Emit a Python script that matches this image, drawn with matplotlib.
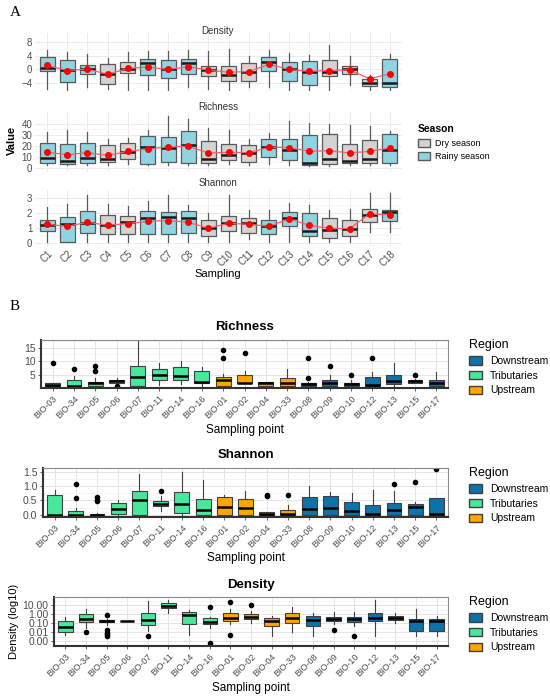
import matplotlib
matplotlib.use('Agg')
import matplotlib.pyplot as plt
from matplotlib.patches import Patch
import numpy as np

plt.rcParams['font.family'] = ['Liberation Sans', 'DejaVu Sans']

# ---------------- Panel A data (C1..C18) ----------------
sites = ['C1', 'C2', 'C3', 'C4', 'C5', 'C6', 'C7', 'C8', 'C9', 'C10',
         'C11', 'C12', 'C13', 'C14', 'C15', 'C16', 'C17', 'C18']
season = ['Rainy', 'Rainy', 'Rainy', 'Dry', 'Dry', 'Rainy', 'Rainy', 'Rainy', 'Dry',
          'Dry', 'Dry', 'Rainy', 'Rainy', 'Rainy', 'Dry', 'Dry', 'Dry', 'Rainy']

dens_lo = [-5.6, -5.8, -5.1, -5.6, -5.8, -5.8, -5.8, -5.1, -5.6, -5.8, -5.1, -5.1, -5.8, -5.8, -5.8, -4.5, -5.8, -5.8]
dens_q1 = [-0.5, -3.5, -1.2, -4.1, -1.1, -1.7, -2.6, -1.2, -1.9, -3.3, -3.3, -0.5, -3.3, -4.6, -2.0, -1.4, -4.8, -5.1]
dens_med = [0.4, -0.2, 0.1, -1.2, 0.1, 2.0, 0.1, 1.9, -0.2, -1.5, -0.8, 2.2, 0.2, -0.8, -0.8, 0.0, -4.0, -3.8]
dens_q3 = [3.5, 2.7, 1.4, 1.5, 2.2, 3.0, 2.7, 3.0, 1.1, 1.0, 2.0, 3.5, 2.1, 2.4, 2.6, 1.1, -2.8, 2.9]
dens_hi = [5.5, 5.0, 4.5, 3.3, 5.0, 5.4, 5.4, 5.6, 5.4, 5.8, 4.0, 5.6, 4.7, 4.2, 7.1, 4.0, -1.5, 4.4]
dens_mean = [1.2, -0.3, 0.1, -1.4, 0.3, 0.7, 0.0, 0.8, -0.2, -0.8, -0.6, 1.5, 0.0, -0.5, -0.3, -0.1, -2.7, -1.2]

rich_lo = [2.5, 2.5, 2.0, 2.8, 3.7, 2.0, 2.5, 2.0, 2.0, 3.0, 2.8, 3.7, 2.5, 1.6, 1.6, 2.5, 2.5, 2.5]
rich_q1 = [4.7, 3.5, 4.1, 5.0, 7.8, 3.5, 5.0, 4.1, 4.4, 6.9, 5.3, 9.3, 7.2, 2.5, 3.3, 4.7, 4.7, 4.7]
rich_med = [8.8, 6.5, 9.0, 8.1, 14.7, 19.3, 17.8, 21.2, 7.5, 11.2, 13.1, 19.0, 16.5, 4.1, 8.1, 6.5, 8.1, 16.5]
rich_q3 = [22.8, 21.5, 22.8, 20.6, 22.4, 29.0, 28.4, 33.4, 24.0, 21.9, 20.9, 25.9, 26.5, 29.6, 31.2, 21.9, 25.0, 30.6]
rich_hi = [32.7, 34.6, 32.7, 25.9, 27.5, 34.6, 47.7, 44.6, 35.9, 34.6, 26.5, 32.0, 43.0, 40.8, 39.9, 39.0, 37.8, 33.6]
rich_mean = [14.0, 11.9, 13.7, 11.2, 14.9, 17.2, 19.0, 19.6, 13.4, 14.0, 13.7, 18.7, 18.4, 15.0, 15.6, 13.4, 15.0, 18.1]

shan_lo = [0.07, 0.04, 0.07, 0.07, 0.07, 0.07, 0.07, 0.07, 0.07, 0.07, 0.25, 0.07, 0.07, 0.07, 0.07, 0.07, 0.73, 0.73]
shan_q1 = [0.80, 0.09, 0.68, 0.62, 0.62, 0.62, 0.62, 0.66, 0.48, 0.80, 0.68, 0.62, 1.15, 0.44, 0.35, 0.48, 1.41, 1.45]
shan_med = [1.20, 1.23, 1.30, 1.20, 1.37, 1.65, 1.72, 1.65, 0.97, 1.30, 1.30, 1.15, 1.63, 0.80, 0.84, 0.90, 1.85, 2.03]
shan_q3 = [1.50, 1.72, 2.10, 1.85, 1.80, 2.10, 2.07, 2.10, 1.50, 1.80, 1.67, 1.50, 2.07, 2.00, 1.67, 1.50, 2.25, 2.20]
shan_hi = [2.40, 2.60, 3.15, 2.55, 2.45, 2.80, 3.15, 2.50, 2.00, 3.15, 2.15, 2.15, 2.64, 2.50, 2.15, 2.27, 3.30, 3.30]
shan_mean = [1.23, 1.10, 1.37, 1.17, 1.28, 1.43, 1.48, 1.37, 0.97, 1.30, 1.23, 1.10, 1.59, 1.17, 0.97, 0.95, 1.92, 1.87]

# ---------------- Panel B data (sampling points) ----------------
points = ['BIO-03', 'BIO-34', 'BIO-05', 'BIO-06', 'BIO-07', 'BIO-11', 'BIO-14', 'BIO-16',
          'BIO-01', 'BIO-02', 'BIO-04', 'BIO-33',
          'BIO-08', 'BIO-09', 'BIO-10', 'BIO-12', 'BIO-13', 'BIO-15', 'BIO-17']
region = ['Tributaries'] * 8 + ['Upstream'] * 4 + ['Downstream'] * 7

r_lo = [1, 1, 1, 2, 1, 1.4, 1.5, 1, 1, 2, 1, 1, 1, 1, 1, 1, 1, 2, 1]
r_q1 = [1, 1, 1, 2, 1, 3.2, 3.0, 2, 1, 2, 1, 1, 1, 1, 1, 1, 1.7, 2, 1]
r_med = [1.2, 1, 2, 2.8, 4.2, 5.0, 4.7, 2.2, 3.2, 2, 2, 2, 1.5, 2, 1.5, 1.2, 2.7, 2.6, 2]
r_q3 = [2, 3, 2.2, 3, 8.4, 7.1, 7.7, 6.5, 4.2, 4.9, 2.2, 4, 2, 3, 2, 4.3, 4.9, 3.2, 3.2]
r_hi = [2, 4.4, 4, 4, 17.5, 9.3, 10, 8, 5.4, 6.5, 2, 7.1, 2.5, 5, 3, 6.2, 9.3, 3.5, 6.2]
r_out = [[9.3], [7], [6.5, 8.2], [1], [], [], [], [], [14.2, 11.1], [13.2], [], [],
         [4, 11.1], [8.1], [4.9], [11.1], [], [4.9], []]

s_lo = [0, 0, 0, 0, 0, 0.12, 0, 0, 0, 0, 0, 0, 0, 0, 0, 0, 0, 0, 0]
s_q1 = [0, 0, 0, 0.03, 0, 0.29, 0.06, 0, 0, 0, 0, 0, 0, 0, 0, 0, 0, 0, 0]
s_med = [0, 0, 0, 0.20, 0.53, 0.38, 0.38, 0.15, 0.27, 0.23, 0.03, 0.03, 0.21, 0.23, 0.12, 0.03, 0.15, 0.27, 0.02]
s_q3 = [0.70, 0.14, 0.03, 0.41, 0.84, 0.47, 0.80, 0.55, 0.62, 0.56, 0.09, 0.18, 0.62, 0.67, 0.43, 0.35, 0.41, 0.37, 0.59]
s_hi = [0.85, 0.23, 0.05, 0.50, 1.43, 0.64, 1.50, 1.22, 0.70, 0.84, 0.10, 0.35, 1.00, 0.79, 0.76, 0.86, 0.82, 0.43, 0.59]
s_out = [[], [0.57, 1.06], [0.47, 0.53, 0.63], [], [], [0.82], [], [], [], [], [0.65, 0.68], [0.70],
         [], [], [], [], [1.08], [1.14], [1.58]]

d_lo = [0.0057, 0.03, 0.06, 0.17, 0.015, 1.5, 0.005, 0.03, 0.08, 0.12, 0.0045, 0.012, 0.0045, 0.08, 0.045, 0.0045, 0.12, 0.0045, 0.0045]
d_q1 = [0.0102, 0.15, 0.125, 0.17, 0.07, 4.4, 0.08, 0.08, 0.19, 0.28, 0.054, 0.12, 0.045, 0.16, 0.15, 0.16, 0.22, 0.016, 0.016]
d_med = [0.035, 0.28, 0.17, 0.17, 0.26, 9.0, 0.8, 0.15, 0.43, 0.55, 0.16, 0.34, 0.22, 0.28, 0.28, 0.40, 0.40, 0.16, 0.16]
d_q3 = [0.16, 1.0, 0.22, 0.17, 1.5, 18, 1.7, 0.34, 1.26, 1.0, 0.34, 1.5, 0.65, 0.5, 0.5, 1.5, 0.65, 0.28, 0.28]
d_hi = [0.5, 3.4, 0.3, 0.17, 27, 40, 3.0, 0.5, 3.4, 2.2, 0.65, 6.6, 1.5, 1.7, 1.7, 40, 1.5, 3.4, 0.65]
d_out = [[], [0.01], [0.8, 0.02, 0.009, 0.006, 0.004], [], [0.0045], [], [], [6.6, 0.0007],
         [23, 0.0058], [11], [], [], [], [0.017], [0.0045], [], [], [], []]

season_col = {'Dry': '#d3d3d3', 'Rainy': '#90d4e1'}
region_col = {'Downstream': '#0d72a8', 'Tributaries': '#46e89a', 'Upstream': '#ffa500'}

W, H = 550, 699
fig = plt.figure(figsize=(W / 100, H / 100), dpi=100)


def ax_px(left, top, right, bottom):
    return fig.add_axes([left / W, 1 - bottom / H, (right - left) / W, (bottom - top) / H])


def make_stats(lo, q1, med, q3, hi, out=None):
    stats = []
    for i in range(len(lo)):
        stats.append({'whislo': lo[i], 'q1': q1[i], 'med': med[i], 'q3': q3[i],
                      'whishi': hi[i], 'fliers': out[i] if out else []})
    return stats


# ---------------- Panel A ----------------
fig.text(10 / W, 1 - 12 / H, 'A', fontsize=11, family='Liberation Serif', va='center')

facetsA = [
    ('Density', (dens_lo, dens_q1, dens_med, dens_q3, dens_hi), dens_mean, (33, 91), (-6.2, 10.5), [-4, 0, 4, 8], 31),
    ('Richness', (rich_lo, rich_q1, rich_med, rich_q3, rich_hi), rich_mean, (112, 172), (-4, 51), [0, 10, 20, 30, 40], 107),
    ('Shannon', (shan_lo, shan_q1, shan_med, shan_q3, shan_hi), shan_mean, (190, 246), (-0.2, 3.5), [0, 1, 2, 3], 183),
]
posA = np.arange(1, len(sites) + 1)
for k, (name, arrs, means, (top, bot), ylim, ticks, ty) in enumerate(facetsA):
    ax = ax_px(35, top, 402, bot)
    bp = ax.bxp(make_stats(*arrs), positions=posA, widths=0.75, patch_artist=True,
                showcaps=False, showfliers=False,
                boxprops=dict(edgecolor='#5a5a5a', linewidth=0.9),
                medianprops=dict(color='#1a1a1a', linewidth=1.8),
                whiskerprops=dict(color='#5a5a5a', linewidth=0.9))
    for patch, s in zip(bp['boxes'], season):
        patch.set_facecolor(season_col[s])
    ax.plot(posA, means, color='#ff5b6b', lw=0.9, zorder=4)
    ax.plot(posA, means, 'o', color='red', ms=4, zorder=5)
    ax.set_xlim(0.4, 18.6)
    ax.set_ylim(*ylim)
    ax.set_yticks(ticks)
    ax.set_yticks([(ticks[i] + ticks[i + 1]) / 2 for i in range(len(ticks) - 1)], minor=True)
    ax.set_xticks(posA)
    ax.grid(True, which='major', color='#ebebeb', lw=0.7)
    ax.grid(True, which='minor', axis='y', color='#f4f4f4', lw=0.5)
    ax.set_axisbelow(True)
    for sp in ax.spines.values():
        sp.set_visible(False)
    ax.tick_params(length=0, labelsize=7, colors='#4d4d4d', pad=2)
    ax.tick_params(which='minor', length=0)
    if k < 2:
        ax.set_xticklabels([])
    else:
        ax.set_xticklabels(sites, rotation=45, ha='right', va='top', rotation_mode='anchor')
    fig.text(218 / W, 1 - ty / H, name, fontsize=7, color='#333333', ha='center', va='center')

fig.text(218 / W, 1 - 274 / H, 'Sampling', fontsize=8, ha='center', va='center')
fig.text(12 / W, 1 - 140 / H, 'Value', fontsize=8, fontweight='bold', rotation=90,
         ha='center', va='center')

hA = [Patch(facecolor=season_col['Dry'], edgecolor='#5a5a5a', label='Dry season'),
      Patch(facecolor=season_col['Rainy'], edgecolor='#5a5a5a', label='Rainy season')]
legA = fig.legend(handles=hA, title='Season', loc='upper left', bbox_to_anchor=(410 / W, 1 - 116 / H),
                  frameon=False, fontsize=6.5, title_fontsize=7.5, handlelength=1.3, handleheight=1.0,
                  labelspacing=0.5, handletextpad=0.6, alignment='left')
legA.get_title().set_fontweight('bold')

# ---------------- Panel B ----------------
fig.text(10 / W, 1 - 307 / H, 'B', fontsize=11, family='Liberation Serif', va='center')

posB = np.arange(1, len(points) + 1)
facetsB = [
    ('Richness', (r_lo, r_q1, r_med, r_q3, r_hi), r_out, (41, 340, 388), 327, 430),
    ('Shannon', (s_lo, s_q1, s_med, s_q3, s_hi), s_out, (43, 468, 517), 455, 558),
    ('Density', (d_lo, d_q1, d_med, d_q3, d_hi), d_out, (54, 597, 646), 585, 688),
]
for k, (name, arrs, outs, (left, top, bot), ty, xy) in enumerate(facetsB):
    ax = ax_px(left, top, 448, bot)
    bp = ax.bxp(make_stats(*arrs, outs), positions=posB, widths=0.7, patch_artist=True,
                showcaps=False, showfliers=True,
                boxprops=dict(edgecolor='#404040', linewidth=0.8),
                medianprops=dict(color='black', linewidth=1.8),
                whiskerprops=dict(color='#404040', linewidth=0.8),
                flierprops=dict(marker='o', markerfacecolor='black', markeredgecolor='black',
                                markersize=3, linestyle='none'))
    for patch, r in zip(bp['boxes'], region):
        patch.set_facecolor(region_col[r])
    ax.set_xlim(0.45, 19.55)
    if name == 'Richness':
        ax.set_ylim(0.15, 17.8)
        ax.set_yticks([5, 10, 15])
        ax.set_yticks([2.5, 7.5, 12.5, 17.5], minor=True)
    elif name == 'Shannon':
        ax.set_ylim(-0.078, 1.63)
        ax.set_yticks([0, 0.5, 1.0, 1.5])
        ax.set_yticklabels(['0.0', '0.5', '1.0', '1.5'])
        ax.set_yticks([0.25, 0.75, 1.25], minor=True)
    else:
        ax.set_yscale('log')
        ax.set_ylim(10 ** -3.35, 10 ** 1.9)
        ax.set_yticks([0.001, 0.01, 0.1, 1, 10])
        ax.set_yticklabels(['0.00', '0.01', '0.10', '1.00', '10.00'])
        ax.set_yticks([10 ** (e + 0.5) for e in range(-4, 2)], minor=True)
        ax.set_yticklabels([], minor=True)
        fig.text(14 / W, 1 - 621 / H, 'Density (log10)', fontsize=8, rotation=90,
                 ha='center', va='center')
    ax.set_xticks(posB)
    ax.set_xticklabels(points, rotation=45, ha='right', va='top', rotation_mode='anchor')
    ax.grid(True, which='major', color='#e5e5e5', lw=0.7)
    ax.grid(True, which='minor', axis='y', color='#f2f2f2', lw=0.5)
    ax.set_axisbelow(True)
    for sp in ax.spines.values():
        sp.set_color('#8a8a8a')
        sp.set_linewidth(0.8)
    ax.spines['left'].set_color('#333333')
    ax.spines['bottom'].set_color('#333333')
    ax.spines['left'].set_linewidth(1.5)
    ax.spines['bottom'].set_linewidth(1.5)
    ax.tick_params(axis='y', labelsize=7.5, colors='#4d4d4d', length=2.5, width=0.6, pad=1.5)
    ax.tick_params(axis='x', labelsize=6.5, colors='#4d4d4d', length=2.5, width=0.6, pad=1.5)
    ax.tick_params(which='minor', length=0)
    cx = (left + 448) / 2
    fig.text(cx / W, 1 - ty / H, name, fontsize=9.5, fontweight='bold', ha='center', va='center')
    fig.text(cx / W, 1 - xy / H, 'Sampling point', fontsize=8.5, ha='center', va='center')

    hB = [Patch(facecolor=region_col[r], edgecolor='#404040', label=r)
          for r in ['Downstream', 'Tributaries', 'Upstream']]
    fig.legend(handles=hB, title='Region', loc='upper left',
               bbox_to_anchor=(460 / W, 1 - (top - 10) / H), frameon=False, fontsize=7.5,
               title_fontsize=9, handlelength=1.2, handleheight=0.9, labelspacing=0.45,
               handletextpad=0.8, alignment='left')

fig.savefig('out.png', dpi=100)
